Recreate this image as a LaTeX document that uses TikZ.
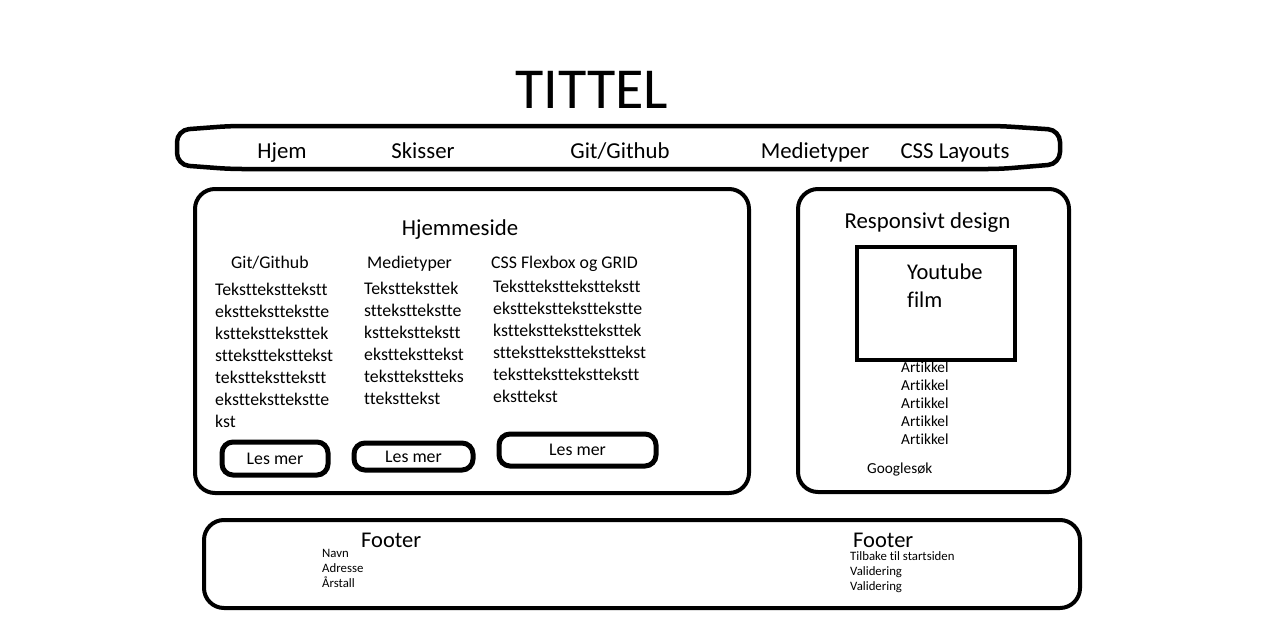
\documentclass[tikz,border=0pt]{standalone}
\usepackage{fontspec}
\setmainfont{Carlito}[Ligatures=NoCommon]
\usetikzlibrary{arrows,shapes}
\tikzstyle{panel}=[draw,line width=4pt,rounded corners=20pt,inner sep=0pt]
\tikzstyle{screen}=[draw,line width=4pt,inner sep=0pt]
\tikzstyle{button}=[draw,line width=5pt,rounded corners=11pt,inner sep=0pt,font=\fontsize{17.8}{21}\selectfont]
\tikzstyle{title}=[font=\fontsize{58}{60}\selectfont,anchor=base,inner sep=0pt]
\tikzstyle{heading}=[font=\fontsize{22.8}{26}\selectfont,anchor=base,inner sep=0pt]
\tikzstyle{headleft}=[font=\fontsize{22.5}{26}\selectfont,anchor=base west,inner sep=0pt]
\tikzstyle{coltext}=[font=\fontsize{17.8}{22}\selectfont,anchor=base west,inner sep=0pt]
\tikzstyle{small}=[font=\fontsize{15.3}{18}\selectfont,anchor=base west,inner sep=0pt]
\tikzstyle{tiny}=[font=\fontsize{12.8}{15}\selectfont,anchor=base west,inner sep=0pt]

\begin{document}
\begin{tikzpicture}[x=1pt,y=-1pt]
    \useasboundingbox (0,0) rectangle (1281,642);
    % Title and menu bar
    \node[title] (tittel) at (592,108) {TITTEL};
    \draw[line width=4.5pt,rounded corners=12pt] (177,130) -- (230,126) -- (1000,126) -- (1060,130)
        -- (1060,164) -- (1000,169) -- (230,169) -- (177,165) -- cycle;
    \foreach \pos/\name/\txt in {{(282,158)/hjem/Hjem}, {(423,158)/skisser/Skisser},
        {(620,158)/git/{Git/Github}}, {(815,158)/medie/Medietyper}, {(955,158)/css/CSS Layouts}}
        \node[heading] (menu-\name) at \pos {\txt};

    % Main panel with three columns
    \node[panel,minimum width=554pt,minimum height=304pt] (main) at (472,341) {};
    \node[heading] (mainhead) at (460,235) {Hjemmeside};
    \node[coltext] (colhead1) at (231,268) {Git/Github};
    \node[coltext] (colhead2) at (367,268) {Medietyper};
    \node[coltext] (colhead3) at (491,268) {CSS Flexbox og GRID};
    \foreach \txt [count=\i] in {Tekstteksttekstt, ekstteksttekstte, ksttekstteksttek, sttekstteksttekst,
        tekstteksttekstt, ekstteksttekstte, kst}
        \node[coltext] (colA\i) at (215,273+22*\i) {\txt};
    \foreach \txt [count=\i] in {Tekstteksttek, stteksttekstte, kstteksttekstt, ekstteksttekst,
        teksttekstteks, tteksttekst}
        \node[coltext] (colB\i) at (364,272+22*\i) {\txt};
    \foreach \txt [count=\i] in {Teksttekstteksttekstt, eksttekstteksttekstte, kstteksttekstteksttek,
        stteksttekstteksttekst, teksttekstteksttekstt, eksttekst}
        \node[coltext] (colC\i) at (493,270+22*\i) {\txt};
    \node[button,minimum width=106pt,minimum height=33pt] (lesmer1) at (275,458.5) {Les mer};
    \node[button,minimum width=119pt,minimum height=27pt] (lesmer2) at (413.5,456.5) {Les mer};
    \node[button,minimum width=157pt,minimum height=32pt] (lesmer3) at (577.5,450) {Les mer};

    % Side panel
    \node[panel,minimum width=271pt,minimum height=303pt] (side) at (933.5,340.5) {};
    \node[heading] (sidehead) at (927.5,228) {Responsivt design};
    \node[screen,minimum width=158pt,minimum height=113pt] (video) at (936,303.5) {};
    \node[headleft] (video1) at (907,279) {Youtube};
    \node[headleft] (video2) at (907,307) {film};
    \foreach \i in {1,...,5}
        \node[small] (artikkel\i) at (901,355+17.8*\i) {Artikkel};
    \node[small] (google) at (867,473) {Googlesøk};

    % Footer
    \node[panel,minimum width=876pt,minimum height=88pt] (footer) at (642,564) {};
    \node[headleft] (footleft) at (361,547) {Footer};
    \node[headleft] (footright) at (853,547) {Footer};
    \foreach \txt [count=\i] in {Navn, Adresse, Årstall}
        \node[tiny] (infoL\i) at (322,542+15*\i) {\txt};
    \foreach \txt [count=\i] in {Tilbake til startsiden, Validering, Validering}
        \node[tiny] (infoR\i) at (850,545+15*\i) {\txt};
\end{tikzpicture}
\end{document}
